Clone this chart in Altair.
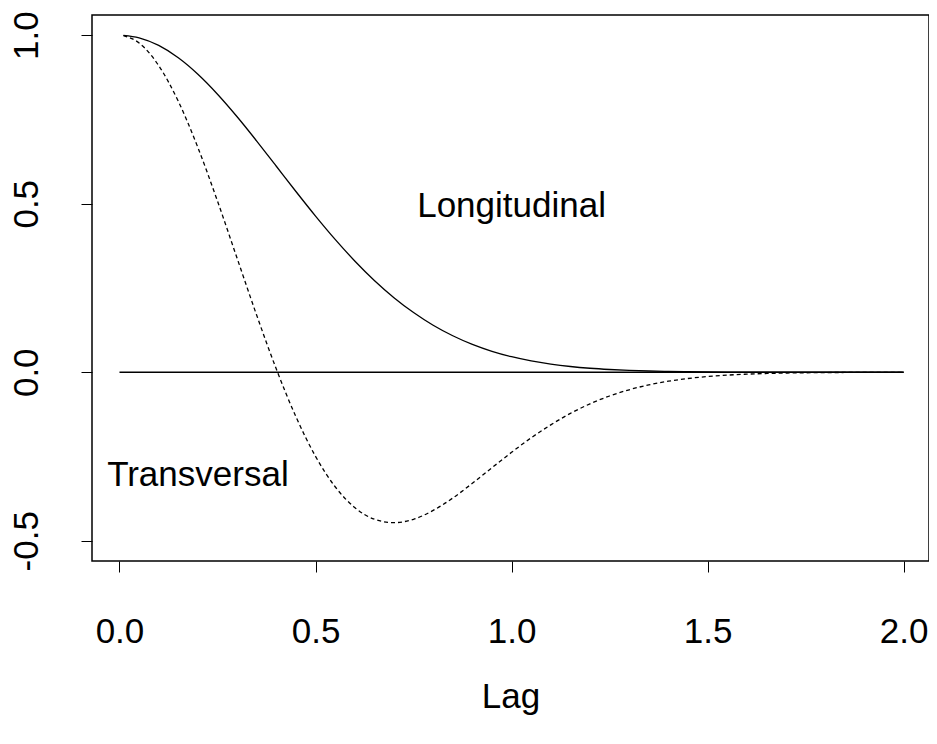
import altair as alt
import pandas as pd

# Lag values (x) and the two correlation curves
lag = [0.01, 0.05, 0.10, 0.15, 0.20, 0.25, 0.30, 0.35, 0.40, 0.45, 0.50,
       0.55, 0.60, 0.65, 0.70, 0.75, 0.80, 0.85, 0.90, 0.95, 1.00,
       1.05, 1.10, 1.15, 1.20, 1.25, 1.30, 1.35, 1.40, 1.45, 1.50,
       1.55, 1.60, 1.65, 1.70, 1.75, 1.80, 1.85, 1.90, 1.95, 2.00]
longitudinal = [0.9997, 0.9923, 0.9697, 0.9331, 0.8842, 0.8250, 0.7581, 0.6860, 0.6112, 0.5363, 0.4634,
                0.3943, 0.3303, 0.2725, 0.2214, 0.1772, 0.1395, 0.1083, 0.0827, 0.0622, 0.0461,
                0.0336, 0.0242, 0.0171, 0.0119, 0.0082, 0.0055, 0.0037, 0.0024, 0.0016, 0.0010,
                0.0006, 0.0004, 0.0002, 0.0001, 0.0001, 0.0000, 0.0000, 0.0000, 0.0000, 0.0000]
transversal = [0.9991, 0.9770, 0.9100, 0.8039, 0.6666, 0.5077, 0.3382, 0.1689, 0.0094, -0.1320, -0.2495,
               -0.3397, -0.4014, -0.4360, -0.4462, -0.4362, -0.4099, -0.3732, -0.3295, -0.2833, -0.2376,
               -0.1944, -0.1560, -0.1221, -0.0936, -0.0704, -0.0519, -0.0375, -0.0266, -0.0185, -0.0126,
               -0.0085, -0.0056, -0.0036, -0.0023, -0.0015, -0.0009, -0.0006, -0.0003, -0.0002, -0.0001]

zero_lag = [0.0, 2.0]
zero_val = [0.0, 0.0]

label_text = ["Longitudinal", "Transversal"]
label_x = [1.0, 0.2]
label_y = [0.5, -0.3]

x_ticks = [0.0, 0.5, 1.0, 1.5, 2.0]
y_ticks = [-0.5, 0.0, 0.5, 1.0]

FONT = "Liberation Sans"

curves = pd.DataFrame({"lag": lag, "longitudinal": longitudinal, "transversal": transversal})
zero = pd.DataFrame({"lag": zero_lag, "value": zero_val})
labels = pd.DataFrame({"text": label_text, "lag": label_x, "value": label_y})

lab_expr = "datum.value < 0 ? '-' + format(-datum.value, '.1f') : format(datum.value, '.1f')"

x_scale = alt.Scale(domain=[-0.0701, 2.0646], nice=False, zero=False)
y_scale = alt.Scale(domain=[-0.56, 1.06], nice=False, zero=False)

x_axis = alt.Axis(values=x_ticks, labelExpr=lab_expr, labelFont=FONT, labelFontSize=35,
                  labelColor="black", labelBaseline="alphabetic", labelPadding=70,
                  tickSize=11, tickColor="black", tickWidth=1, domain=False, grid=False,
                  title="Lag", titleFont=FONT, titleFontSize=35, titleFontWeight="normal",
                  titleColor="black", titleBaseline="alphabetic", titleY=146)
y_axis = alt.Axis(values=y_ticks, labelExpr=lab_expr, labelFont=FONT, labelFontSize=35,
                  labelColor="black", labelAngle=-90, labelAlign="center",
                  labelBaseline="alphabetic", labelPadding=44,
                  tickSize=11, tickColor="black", tickWidth=1, domain=False, grid=False,
                  title="")

zero_line = alt.Chart(zero).mark_line(color="black", strokeWidth=1.3).encode(
    x=alt.X("lag:Q", scale=x_scale, axis=x_axis),
    y=alt.Y("value:Q", scale=y_scale, axis=y_axis),
)

long_line = alt.Chart(curves).mark_line(color="black", strokeWidth=1.3, interpolate="monotone").encode(
    x=alt.X("lag:Q", scale=x_scale),
    y=alt.Y("longitudinal:Q", scale=y_scale),
)

trans_line = alt.Chart(curves).mark_line(color="black", strokeWidth=1.3, strokeDash=[4, 3],
                                         interpolate="monotone").encode(
    x=alt.X("lag:Q", scale=x_scale),
    y=alt.Y("transversal:Q", scale=y_scale),
)

text = alt.Chart(labels).mark_text(font=FONT, fontSize=35, color="black", align="center",
                                   baseline="alphabetic", dy=13).encode(
    x=alt.X("lag:Q", scale=x_scale),
    y=alt.Y("value:Q", scale=y_scale),
    text="text:N",
)

chart = alt.layer(zero_line, long_line, trans_line, text).properties(
    width=837, height=546,
    padding={"left": 84, "top": 7, "right": 0, "bottom": 175},
    autosize=alt.AutoSizeParams(type="none"),
).configure(background="white").configure_view(stroke="black", strokeWidth=1.5, fill="white")

chart.save("out.html", embed_options={"renderer": "svg", "actions": False})
